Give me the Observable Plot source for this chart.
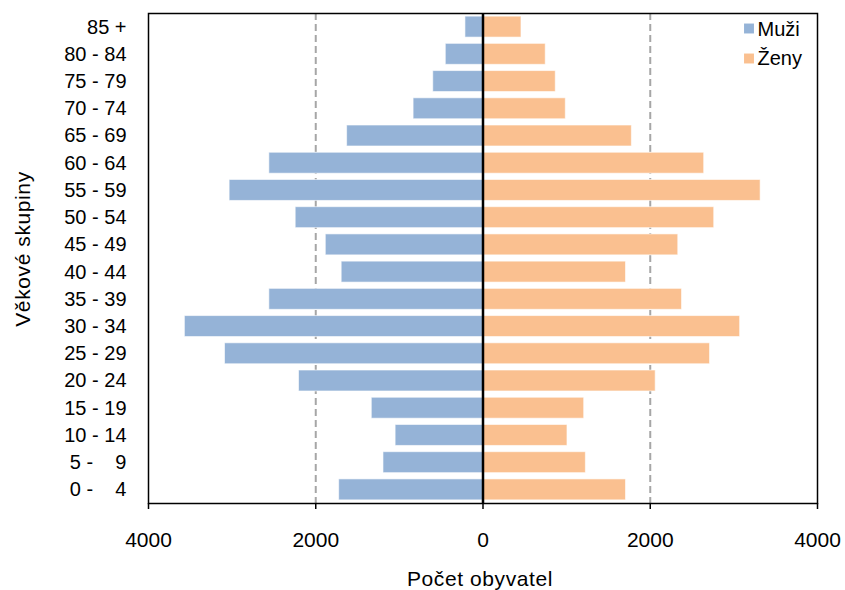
<!DOCTYPE html>
<html>
<head>
<meta charset="utf-8">
<script src="https://cdn.jsdelivr.net/npm/d3@7"></script>
<script src="https://cdn.jsdelivr.net/npm/@observablehq/plot@0.6"></script>
<style>
  html, body { margin: 0; padding: 0; background: #fff; }
  #chart svg { display: block; }
  #chart svg text { white-space: pre; }
  #chart svg .axis-title text { letter-spacing: 0.6px; }
</style>
</head>
<body>
<div id="chart"></div>
<script>
// Age groups, bottom (youngest) to top (oldest)
const ageGroups = ["0 -    4", "5 -    9", "10 - 14", "15 - 19", "20 - 24", "25 - 29", "30 - 34", "35 - 39", "40 - 44",
                   "45 - 49", "50 - 54", "55 - 59", "60 - 64", "65 - 69", "70 - 74", "75 - 79", "80 - 84", "85 +"];
const men   = [1720, 1190, 1045, 1330, 2200, 3085, 3565, 2555, 1690, 1880, 2240, 3030, 2555, 1625, 830, 595, 445, 210];
const women = [1710, 1230, 1010, 1210, 2065, 2715, 3075, 2380, 1710, 2335, 2765, 3320, 2645, 1780, 990, 870, 750, 460];
const series = ["Muži", "Ženy"];
const seriesColors = ["#95b3d7", "#fac090"];
const xTicks = [-4000, -2000, 0, 2000, 4000];
const gridTicks = [-2000, 2000];
const xLabel = "Počet obyvatel";
const yLabel = "Věkové skupiny";

const rows = ageGroups.map((g, i) => ({group: g, men: men[i], women: women[i]}));

const legendMarks = series.flatMap((s, i) => [
  Plot.dot([s], {frameAnchor: "top-right", dx: -68.5, dy: 15 + i * 30, symbol: "square", r: 5.6, fill: seriesColors[i]}),
  Plot.text([s], {text: d => d, frameAnchor: "top-right", textAnchor: "start", lineAnchor: "middle", dx: -60, dy: 15.6 + i * 29.5, fontSize: 20, fill: "black"})
]);

const chart = Plot.plot({
  width: 845,
  height: 590,
  marginLeft: 148,
  marginRight: 28,
  marginTop: 13,
  marginBottom: 87,
  style: {fontFamily: "'Liberation Sans', Arial, sans-serif", color: "black", background: "white"},
  x: {domain: [-4000, 4000]},
  y: {domain: ageGroups.slice().reverse(), paddingInner: 0.23, paddingOuter: 0.115, round: false},
  marks: [
    Plot.ruleX(gridTicks, {stroke: "#a6a6a6", strokeWidth: 2, strokeDasharray: "7,4"}),
    Plot.barX(rows, {y: "group", x: d => -d.men, fill: seriesColors[0], stroke: "#ffffff", strokeOpacity: 0.6, strokeWidth: 1}),
    Plot.barX(rows, {y: "group", x: d => d.women, fill: seriesColors[1], stroke: "#ffffff", strokeOpacity: 0.6, strokeWidth: 1}),
    Plot.ruleX([0], {stroke: "black", strokeWidth: 2.5}),
    Plot.frame({stroke: "black", strokeWidth: 1.5}),
    Plot.axisX({ticks: xTicks, tickSize: 6, tickPadding: 23, tickFormat: d => String(Math.abs(d)), fontSize: 21, label: null, stroke: "black", strokeWidth: 1.5}),
    Plot.axisY({tickSize: 0, tickPadding: 22, fontSize: 20, label: null}),
    Plot.text([xLabel], {text: d => d, className: "axis-title", frameAnchor: "bottom", textAnchor: "middle", lineAnchor: "middle", dx: -3, dy: 75.3, fontSize: 21, fill: "black"}),
    Plot.text([yLabel], {text: d => d, className: "axis-title", frameAnchor: "left", textAnchor: "middle", lineAnchor: "middle", rotate: -90, dx: -125.7, dy: -9.5, fontSize: 21, fill: "black"}),
    ...legendMarks
  ]
});
document.getElementById("chart").appendChild(chart);
</script>
</body>
</html>
